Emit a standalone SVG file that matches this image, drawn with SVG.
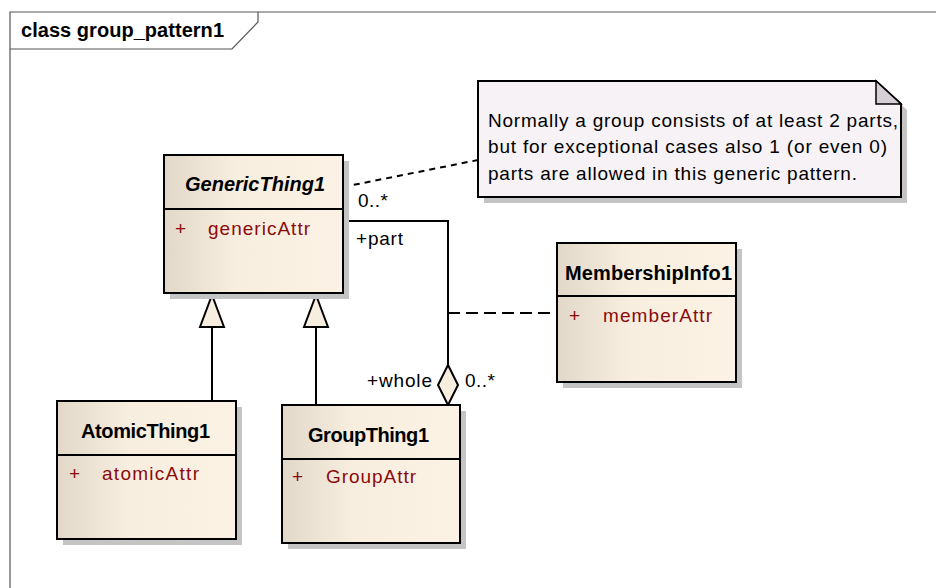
<svg xmlns="http://www.w3.org/2000/svg" width="936" height="588" viewBox="0 0 936 588">
<defs>
<linearGradient id="cls" x1="0" y1="0" x2="1" y2="0">
<stop offset="0" stop-color="#e2d8ca"/>
<stop offset="0.4" stop-color="#f8eedf"/>
<stop offset="1" stop-color="#fbf2e5"/>
</linearGradient>
<style>
text{font-family:"Liberation Sans",Arial,sans-serif;font-size:19px;fill:#000}
.title{font-weight:bold;font-size:20px}
.it{font-style:italic}
.attr{fill:#8b0a0a}
.box{fill:url(#cls);stroke:#000;stroke-width:2}
.shadow{fill:#c4c4c4}
.ln{stroke:#000;stroke-width:2;fill:none}
.frame{stroke:#555;stroke-width:1.2;fill:none}
</style>
</defs>
<rect width="936" height="588" fill="#fff"/>
<g id="frame">
<path class="frame" d="M10,588 V12 H936"/>
<path class="frame" d="M10,49 H232 L258,22 V12"/>
<text x="21" y="37" class="title" font-size="19" textLength="203" lengthAdjust="spacing">class group_pattern1</text>
</g>
<g id="connectors">
<path class="ln" d="M343,187 L478,160" stroke-dasharray="6,5" stroke-width="1.8"/>
<path class="ln" d="M343,221 H448 V365"/>
<path class="ln" d="M448,313 H557" stroke-dasharray="12,6"/>
<polygon points="448,365 458,385 448,405 438,385" fill="#f8eedf" stroke="#000" stroke-width="2"/>
<path class="ln" d="M212,327 V401"/>
<polygon points="212,295 224,327 200,327" fill="#f8eedf" stroke="#000" stroke-width="2"/>
<path class="ln" d="M316,327 V405"/>
<polygon points="316,295 328,327 304,327" fill="#f8eedf" stroke="#000" stroke-width="2"/>
<text x="358" y="207" textLength="30" lengthAdjust="spacing">0..*</text>
<text x="356" y="245" textLength="47" lengthAdjust="spacing">+part</text>
<text x="367" y="387" textLength="65" lengthAdjust="spacing">+whole</text>
<text x="465" y="387" textLength="30" lengthAdjust="spacing">0..*</text>
</g>
<g id="note">
<path d="M484,87 H882 L907,110 V203 H484 Z" fill="#c4c4c4"/>
<path d="M478,81 H876 L901,104 V197 H478 Z" fill="#f6f2f6" stroke="#000" stroke-width="2"/>
<path d="M876,81 V104 H901 Z" fill="#d6d0d6" stroke="#000" stroke-width="1.5"/>
<text x="488" y="127" textLength="410" lengthAdjust="spacing">Normally a group consists of at least 2 parts,</text>
<text x="488" y="153" textLength="399" lengthAdjust="spacing">but for exceptional cases also 1 (or even 0)</text>
<text x="488" y="180" textLength="369" lengthAdjust="spacing">parts are allowed in this generic pattern.</text>
</g>
<g id="GenericThing1">
<rect class="shadow" x="170" y="161" width="179" height="138"/>
<rect class="box" x="164" y="155" width="179" height="138"/>
<line class="ln" x1="164" y1="209" x2="343" y2="209"/>
<text x="185" y="191" class="title it" textLength="140" lengthAdjust="spacing">GenericThing1</text>
<text x="175" y="235" class="attr">+</text>
<text x="208" y="235" class="attr" textLength="102" lengthAdjust="spacing">genericAttr</text>
</g>
<g id="MembershipInfo1">
<rect class="shadow" x="563" y="249" width="179" height="139"/>
<rect class="box" x="557" y="243" width="179" height="139"/>
<line class="ln" x1="557" y1="296" x2="736" y2="296"/>
<text x="565" y="280" class="title" textLength="167" lengthAdjust="spacing">MembershipInfo1</text>
<text x="569" y="322" class="attr">+</text>
<text x="603" y="322" class="attr" textLength="109" lengthAdjust="spacing">memberAttr</text>
</g>
<g id="AtomicThing1">
<rect class="shadow" x="63" y="407" width="179" height="138"/>
<rect class="box" x="57" y="401" width="179" height="138"/>
<line class="ln" x1="57" y1="455" x2="236" y2="455"/>
<text x="81" y="438" class="title" textLength="129" lengthAdjust="spacing">AtomicThing1</text>
<text x="69" y="480" class="attr">+</text>
<text x="102" y="480" class="attr" textLength="97" lengthAdjust="spacing">atomicAttr</text>
</g>
<g id="GroupThing1">
<rect class="shadow" x="288" y="411" width="178" height="138"/>
<rect class="box" x="282" y="405" width="178" height="138"/>
<line class="ln" x1="282" y1="459" x2="460" y2="459"/>
<text x="308" y="442" class="title" textLength="121" lengthAdjust="spacing">GroupThing1</text>
<text x="292" y="483" class="attr">+</text>
<text x="326" y="483" class="attr" textLength="90" lengthAdjust="spacing">GroupAttr</text>
</g>
</svg>
